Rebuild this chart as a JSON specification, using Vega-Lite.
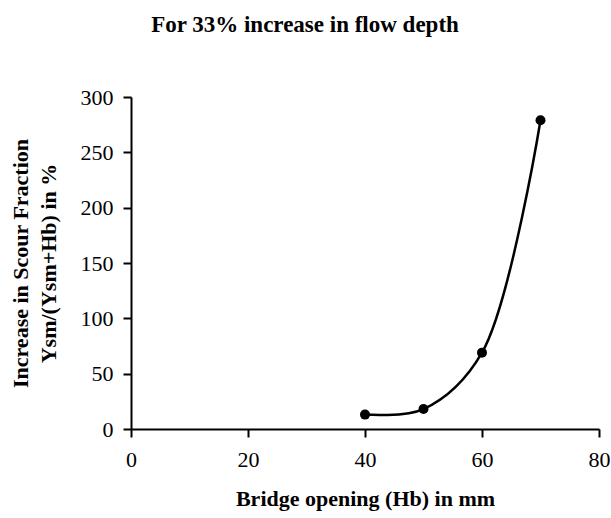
{
  "$schema": "https://vega.github.io/schema/vega-lite/v6.json",
  "width": 468,
  "height": 332,
  "autosize": {"type": "none"},
  "padding": {"left": 131, "top": 97, "right": 12, "bottom": 89},
  "background": "white",
  "title": {
    "text": "For 33% increase in flow depth",
    "font": "Liberation Serif",
    "fontSize": 23,
    "fontWeight": "bold",
    "color": "black",
    "anchor": "middle",
    "frame": "group",
    "dx": -60,
    "offset": 49
  },
  "config": {
    "view": {"stroke": null},
    "axis": {
      "domainColor": "black",
      "domainWidth": 2,
      "tickColor": "black",
      "tickWidth": 2,
      "tickSize": 8,
      "grid": false,
      "labelFont": "Liberation Serif",
      "labelFontSize": 22,
      "labelColor": "black",
      "titleFont": "Liberation Serif",
      "titleFontSize": 22,
      "titleFontWeight": "bold",
      "titleColor": "black"
    }
  },
  "data": {
    "values": [
      {"opening": 40, "increase": 13},
      {"opening": 50, "increase": 18},
      {"opening": 60, "increase": 69},
      {"opening": 70, "increase": 279}
    ]
  },
  "encoding": {
    "x": {
      "field": "opening",
      "type": "quantitative",
      "scale": {"domain": [0, 80], "nice": false},
      "axis": {
        "values": [0, 20, 40, 60, 80],
        "labelPadding": 12,
        "labelFlush": false,
        "title": "Bridge opening (Hb) in mm",
        "titlePadding": 18
      }
    },
    "y": {
      "field": "increase",
      "type": "quantitative",
      "scale": {"domain": [0, 300], "nice": false},
      "axis": {
        "values": [0, 50, 100, 150, 200, 250, 300],
        "labelPadding": 10,
        "labelFlush": false,
        "title": ["Increase in Scour Fraction", "Ysm/(Ysm+Hb) in %"],
        "titleLineHeight": 28,
        "titlePadding": 20
      }
    }
  },
  "layer": [
    {
      "mark": {"type": "line", "interpolate": "catmull-rom", "color": "black", "strokeWidth": 2.5}
    },
    {
      "mark": {"type": "point", "filled": true, "color": "black", "opacity": 1, "size": 100}
    }
  ]
}
